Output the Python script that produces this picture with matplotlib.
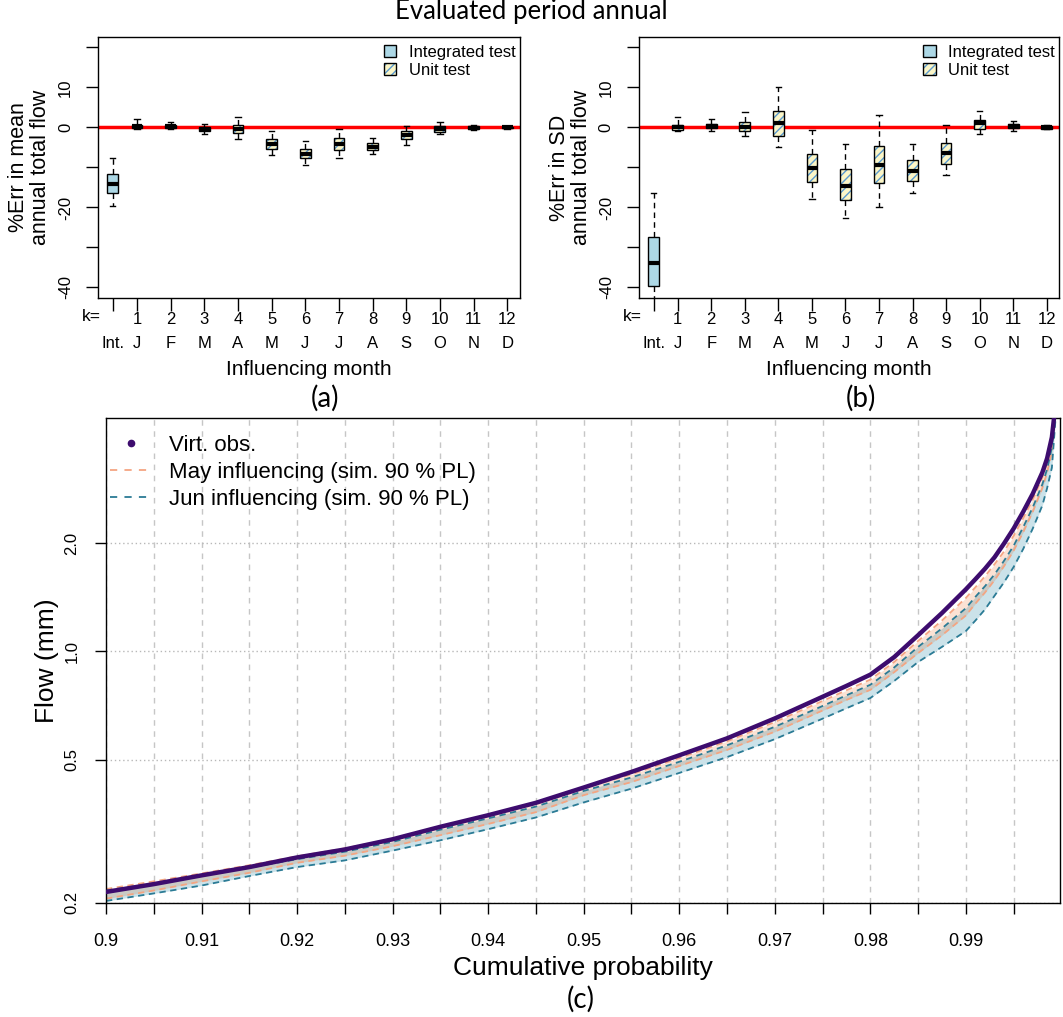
import numpy as np
import matplotlib
matplotlib.use("Agg")
import matplotlib.pyplot as plt
from matplotlib.patches import Patch, PathPatch
from matplotlib.lines import Line2D
from matplotlib.transforms import blended_transform_factory, offset_copy
from matplotlib.legend_handler import HandlerTuple

plt.rcParams['font.family'] = ['Liberation Sans', 'DejaVu Sans']
plt.rcParams['hatch.linewidth'] = 1.0

# ---- data: box statistics (first entry = integrated test, then k = 1..12) ----
int_pos = 0.28
month_nums = [1, 2, 3, 4, 5, 6, 7, 8, 9, 10, 11, 12]
month_letters = ['J', 'F', 'M', 'A', 'M', 'J', 'J', 'A', 'S', 'O', 'N', 'D']

mean_whislo = [-19.7, -0.3, -0.3, -1.7, -3.0, -6.9, -9.5, -7.6, -6.7, -4.4, -1.7, -0.6, -0.3]
mean_q1     = [-16.5, -0.1, -0.25, -1.0, -1.4, -5.3, -7.6, -5.7, -5.7, -3.0, -1.1, -0.5, -0.2]
mean_med    = [-14.2, 0.3, 0.25, -0.5, -0.3, -4.2, -6.6, -4.2, -4.8, -2.0, -0.3, -0.1, 0.0]
mean_q3     = [-11.6, 0.7, 0.7, 0.0, 0.6, -3.0, -5.3, -2.7, -4.0, -1.0, 0.4, 0.4, 0.2]
mean_whishi = [-7.6, 2.0, 1.4, 0.9, 2.6, -1.0, -3.3, -0.3, -2.7, 0.25, 1.4, 0.5, 0.3]

sd_whislo = [-42.8, -1.0, -0.85, -2.1, -5.0, -17.8, -22.6, -19.8, -16.3, -11.9, -1.6, -0.85, -0.5]
sd_q1     = [-39.6, -0.6, -0.25, -1.0, -2.1, -13.6, -18.2, -14.0, -13.3, -9.1, -0.35, -0.25, -0.35]
sd_med    = [-33.9, 0.1, 0.4, 0.0, 1.1, -10.2, -14.6, -9.5, -10.8, -6.4, 1.1, 0.35, 0.0]
sd_q3     = [-27.3, 0.6, 0.9, 1.35, 4.2, -6.7, -10.3, -4.7, -8.2, -4.0, 1.95, 0.75, 0.4]
sd_whishi = [-16.5, 2.5, 2.2, 3.9, 10.1, -0.7, -4.2, 3.2, -4.1, 0.5, 4.2, 1.5, 0.5]

# ---- data: flow duration curve (upper tail) ----
cum_prob  = [0.900, 0.905, 0.910, 0.915, 0.920, 0.925, 0.930, 0.935, 0.940, 0.945,
             0.950, 0.955, 0.960, 0.965, 0.970, 0.975, 0.9775, 0.980, 0.9825, 0.985,
             0.9875, 0.990, 0.991, 0.992, 0.993, 0.994, 0.995, 0.996, 0.997, 0.998,
             0.9985, 0.999, 0.9995]
virt_obs  = [0.214, 0.225, 0.238, 0.251, 0.267, 0.281, 0.300, 0.325, 0.350, 0.379,
             0.418, 0.462, 0.514, 0.573, 0.651, 0.748, 0.802, 0.862, 0.965, 1.11,
             1.28, 1.49, 1.59, 1.70, 1.83, 2.00, 2.20, 2.45, 2.75, 3.15,
             3.45, 3.95, 5.20]
may_upper = [0.218, 0.229, 0.241, 0.254, 0.269, 0.283, 0.301, 0.324, 0.349, 0.377,
             0.416, 0.455, 0.505, 0.562, 0.636, 0.728, 0.780, 0.835, 0.935, 1.07,
             1.22, 1.41, 1.51, 1.62, 1.75, 1.90, 2.10, 2.35, 2.65, 3.05,
             3.35, 3.85, 5.10]
jun_upper = [0.216, 0.226, 0.238, 0.250, 0.264, 0.277, 0.295, 0.319, 0.343, 0.370,
             0.409, 0.446, 0.493, 0.548, 0.617, 0.705, 0.755, 0.808, 0.903, 1.03,
             1.16, 1.32, 1.42, 1.52, 1.64, 1.79, 1.97, 2.22, 2.52, 2.92,
             3.22, 3.70, 5.00]
may_lower = [0.205, 0.216, 0.229, 0.242, 0.258, 0.270, 0.287, 0.308, 0.331, 0.357,
             0.398, 0.433, 0.480, 0.532, 0.598, 0.685, 0.733, 0.782, 0.876, 0.99,
             1.11, 1.26, 1.36, 1.46, 1.58, 1.73, 1.91, 2.15, 2.45, 2.85,
             3.15, 3.60, 5.00]
jun_lower = [0.202, 0.212, 0.223, 0.237, 0.251, 0.262, 0.279, 0.298, 0.320, 0.345,
             0.380, 0.415, 0.459, 0.508, 0.570, 0.650, 0.695, 0.742, 0.828, 0.935,
             1.03, 1.14, 1.22, 1.31, 1.43, 1.56, 1.72, 1.93, 2.20, 2.55,
             2.85, 3.25, 4.90]

# colours
INT_FILL = '#add8e6'
UNIT_FILL = '#fbf6c8'
HATCH_COL = '#5b9bd0'
OBS_COL = '#3d0c6e'
MAY_COL = '#f4a582'
JUN_COL = '#2b7b95'
MAY_FILL = '#fbe2d4'
JUN_FILL = '#cbe2e9'
BOTH_FILL = '#cacac4'

W, H = 1063, 1017
fig = plt.figure(figsize=(W / 100, H / 100), dpi=100)


def px_rect(left, top, right, bottom):
    return [left / W, 1 - bottom / H, (right - left) / W, (bottom - top) / H]


def draw_err_panel(ax, lo, q1, med, q3, hi, ylab):
    stats = [dict(whislo=lo[i], q1=q1[i], med=med[i], q3=q3[i], whishi=hi[i], fliers=[])
             for i in range(len(med))]
    pos = [int_pos] + month_nums
    ax.axhline(0, color='red', lw=2.5, zorder=1)
    bp = ax.bxp(stats, positions=pos, widths=0.32, patch_artist=True, showfliers=False,
                boxprops=dict(edgecolor='black', linewidth=1.0),
                whiskerprops=dict(color='black', linestyle=(0, (4, 3)), linewidth=1.0),
                capprops=dict(color='black', linewidth=1.0),
                medianprops=dict(color='black', linewidth=3, solid_capstyle='butt'),
                zorder=2)
    for i, box in enumerate(bp['boxes']):
        if i == 0:
            box.set_facecolor(INT_FILL)
        else:
            box.set_facecolor(UNIT_FILL)
            box.set_edgecolor('none')
            ax.add_patch(PathPatch(box.get_path(), facecolor='none', edgecolor=HATCH_COL,
                                   hatch='////', linewidth=0, zorder=2.1))
            ax.add_patch(PathPatch(box.get_path(), facecolor='none', edgecolor='black',
                                   linewidth=1.0, zorder=2.2))
    for m in bp['medians']:
        m.set_zorder(3)

    ax.set_xlim(-0.16, 12.37)
    ax.set_ylim(-42.5, 22.5)
    ax.set_yticks([20, 10, 0, -10, -20, -30, -40],
                  ['', '10', '0', '', '-20', '', '-40'], rotation=90, va='center')
    ax.set_xticks(pos, ['\nInt.'] + [f'{n}\n{m}' for n, m in zip(month_nums, month_letters)],
                  linespacing=1.72)
    ax.tick_params(axis='both', length=9, width=1.0, labelsize=12)
    ax.tick_params(axis='x', pad=1.5)
    ax.tick_params(axis='y', pad=9)
    ax.set_xlabel('Influencing month', fontsize=15, labelpad=7)
    ax.set_ylabel(ylab, fontsize=15.5, linespacing=1.05, labelpad=5)
    for s in ax.spines.values():
        s.set_linewidth(1.0)

    trans = offset_copy(blended_transform_factory(ax.transData, ax.transAxes),
                        fig=fig, y=-14.0, units='points')
    ax.text(-0.06, 0, 'k=', transform=trans, ha='right', va='center', fontsize=12.5)

    int_h = Patch(facecolor=INT_FILL, edgecolor='black', linewidth=1.0)
    unit_h = (Patch(facecolor=UNIT_FILL, edgecolor=HATCH_COL, hatch='////', linewidth=0),
              Patch(facecolor='none', edgecolor='black', linewidth=1.0))
    ax.legend([int_h, unit_h], ['Integrated test', 'Unit test'],
              handler_map={tuple: HandlerTuple(ndivide=1)},
              loc='upper right', bbox_to_anchor=(0.9905, 0.972), frameon=False,
              fontsize=12, borderpad=0, borderaxespad=0, handlelength=0.75,
              handleheight=0.75, handletextpad=0.75, labelspacing=0.2)


ax_a = fig.add_axes(px_rect(98, 37.4, 519.6, 297.5))
draw_err_panel(ax_a, mean_whislo, mean_q1, mean_med, mean_q3, mean_whishi,
               '%Err in mean\nannual total flow')
ax_b = fig.add_axes(px_rect(638.8, 37.4, 1059.2, 297.5))
draw_err_panel(ax_b, sd_whislo, sd_q1, sd_med, sd_q3, sd_whishi,
               '%Err in SD\nannual total flow')

# ---- panel (c): flow duration curve ----
ax_c = fig.add_axes(px_rect(106, 418.3, 1060, 902.5))
ax_c.set_yscale('log')
ax_c.fill_between(cum_prob, may_lower, may_upper, color=MAY_FILL, lw=0, zorder=1)
ax_c.fill_between(cum_prob, jun_lower, jun_upper, color=JUN_FILL, lw=0, zorder=1.1)
ax_c.fill_between(cum_prob, may_lower, jun_upper,
                  where=np.array(jun_upper) > np.array(may_lower),
                  color=BOTH_FILL, lw=0, zorder=1.2)
dash = (0, (3.5, 2.5))
for series, col in [(may_upper, MAY_COL), (may_lower, MAY_COL),
                    (jun_upper, JUN_COL), (jun_lower, JUN_COL)]:
    ax_c.plot(cum_prob, series, color=col, ls=dash, lw=1.3, zorder=2)
ax_c.plot(cum_prob, virt_obs, color=OBS_COL, lw=3.2, zorder=3, solid_capstyle='round')

ax_c.set_xlim(0.9, 0.99985)
ax_c.set_ylim(0.2, 4.46)
major_x = [0.90, 0.91, 0.92, 0.93, 0.94, 0.95, 0.96, 0.97, 0.98, 0.99]
minor_x = [0.905, 0.915, 0.925, 0.935, 0.945, 0.955, 0.965, 0.975, 0.985, 0.995]
ax_c.set_xticks(major_x, [f'{v:g}' for v in major_x])
ax_c.set_xticks(minor_x, minor=True)
ax_c.set_yticks([0.2, 0.5, 1.0, 2.0], ['0.2', '0.5', '1.0', '2.0'], rotation=90, va='center')
ax_c.yaxis.set_minor_locator(matplotlib.ticker.NullLocator())
ax_c.tick_params(axis='both', which='both', length=8, width=1.0)
ax_c.tick_params(axis='x', labelsize=13, pad=14)
ax_c.tick_params(axis='y', labelsize=12, pad=11)
ax_c.grid(axis='x', which='both', ls=(0, (4, 4)), color='#c6c6c6', lw=1.0)
ax_c.grid(axis='y', which='major', ls=(0, (1, 2)), color='#b8b8b8', lw=1.0)
ax_c.set_axisbelow(True)
ax_c.set_xlabel('Cumulative probability', fontsize=19, labelpad=4)
ax_c.set_ylabel('Flow (mm)', fontsize=19, labelpad=4)
for s in ax_c.spines.values():
    s.set_linewidth(1.0)

leg_handles = [Line2D([], [], marker='o', ms=4.5, color=OBS_COL, ls='none'),
               Line2D([], [], color=MAY_COL, ls=(0, (4, 4)), lw=1.3),
               Line2D([], [], color=JUN_COL, ls=(0, (4, 4)), lw=1.3)]
ax_c.legend(leg_handles, ['Virt. obs.', 'May influencing (sim. 90 % PL)',
                          'Jun influencing (sim. 90 % PL)'],
            loc='upper left', bbox_to_anchor=(0.004, 0.966), frameon=False, fontsize=16,
            borderpad=0, borderaxespad=0, handlelength=1.9, handletextpad=0.75,
            labelspacing=0.27)

# ---- captions ----
cap = dict(family=['Lato', 'DejaVu Sans'], ha='center', va='center')
fig.text(531 / W, 1 - 12 / H, 'Evaluated period annual', fontsize=18.5, **cap)
fig.text(325 / W, 1 - 398 / H, '(a)', fontsize=20, **cap)
fig.text(861 / W, 1 - 398 / H, '(b)', fontsize=20, **cap)
fig.text(581 / W, 1 - 999 / H, '(c)', fontsize=20, **cap)

fig.savefig('out.png', dpi=100)
